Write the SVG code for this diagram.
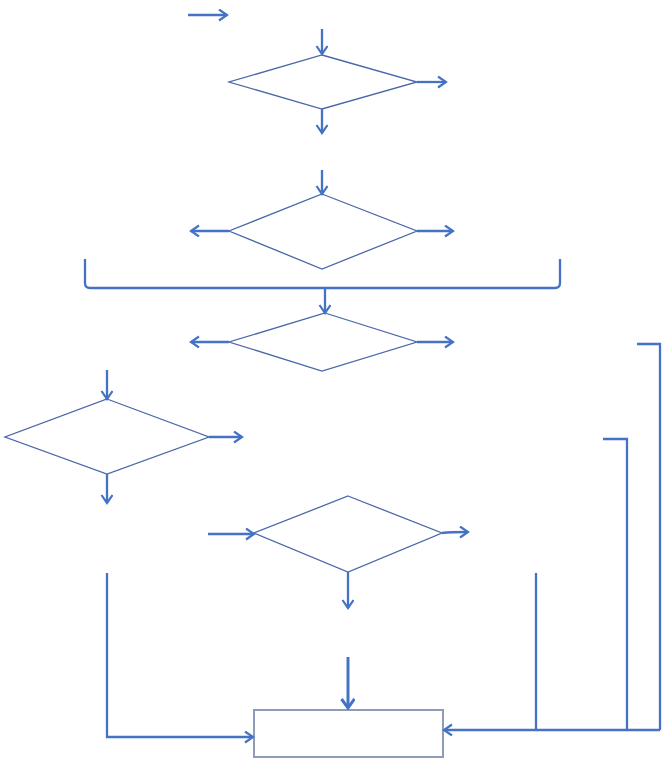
<svg xmlns="http://www.w3.org/2000/svg" width="665" height="759" viewBox="0 0 665 759">
<defs>
<marker id="arr" markerUnits="userSpaceOnUse" markerWidth="12" markerHeight="14" refX="9" refY="6" orient="auto">
<path d="M1,0.5 L9,6 L1,11.5" fill="none" stroke="#4472C4" stroke-width="2.2"/>
</marker>
<marker id="arrT" markerUnits="userSpaceOnUse" markerWidth="14" markerHeight="16" refX="10" refY="7" orient="auto">
<path d="M1,0.5 L10,7 L1,13.5" fill="none" stroke="#4472C4" stroke-width="3"/>
</marker>
<style>
.dia{fill:#ffffff;stroke:#4A67A8;stroke-width:1.3}
.box{fill:#ffffff;stroke:#8E9CBA;stroke-width:2}
.c{fill:none;stroke:#4472C4;stroke-width:2.3}
.ca{fill:none;stroke:#4472C4;stroke-width:2.3;marker-end:url(#arr)}
.thick{fill:none;stroke:#4472C4;stroke-width:3;marker-end:url(#arrT)}
</style>
</defs>
<rect width="665" height="759" fill="#ffffff"/>
<g id="d1"><polygon class="dia" points="322,55 417,82 322,109 229,82"/></g>
<g id="d2"><polygon class="dia" points="322,194 417,231 322,269 229,231"/></g>
<g id="d3"><polygon class="dia" points="325,313 417,342 322,371 229,342"/></g>
<g id="d4"><polygon class="dia" points="107,399 209,437 107,474 5,437"/></g>
<g id="d5"><polygon class="dia" points="348,496 442,533 348,572 254,533"/></g>
<g id="box"><rect class="box" x="254" y="710" width="189" height="47"/></g>
<g id="connectors">
<path class="ca" d="M188,15 H227"/>
<path class="ca" d="M322,29 V54"/>
<path class="ca" d="M417,82 H446"/>
<path class="ca" d="M322,109 V133"/>
<path class="ca" d="M322,170 V194"/>
<path class="ca" d="M229,231 H191"/>
<path class="ca" d="M417,231 H453"/>
<path class="c" d="M85,259 V283 Q85,288 90,288 H555 Q560,288 560,283 V259"/>
<path class="ca" d="M325,288 V313"/>
<path class="ca" d="M229,342 H191"/>
<path class="ca" d="M417,342 H453"/>
<path class="ca" d="M107,370 V399"/>
<path class="ca" d="M209,437 H242"/>
<path class="ca" d="M107,474 V503"/>
<path class="ca" d="M208,534 H254"/>
<path class="ca" d="M442,533 Q450,532 468,532"/>
<path class="ca" d="M348,572 V608"/>
<path class="thick" d="M348,657 V708"/>
<path class="ca" d="M107,573 V737 H253"/>
<path class="c" d="M637,344 H660 V730"/>
<path class="c" d="M603,439 H627 V730"/>
<path class="c" d="M536,573 V730"/>
<path class="ca" d="M660,730 H444"/>
</g>
</svg>
